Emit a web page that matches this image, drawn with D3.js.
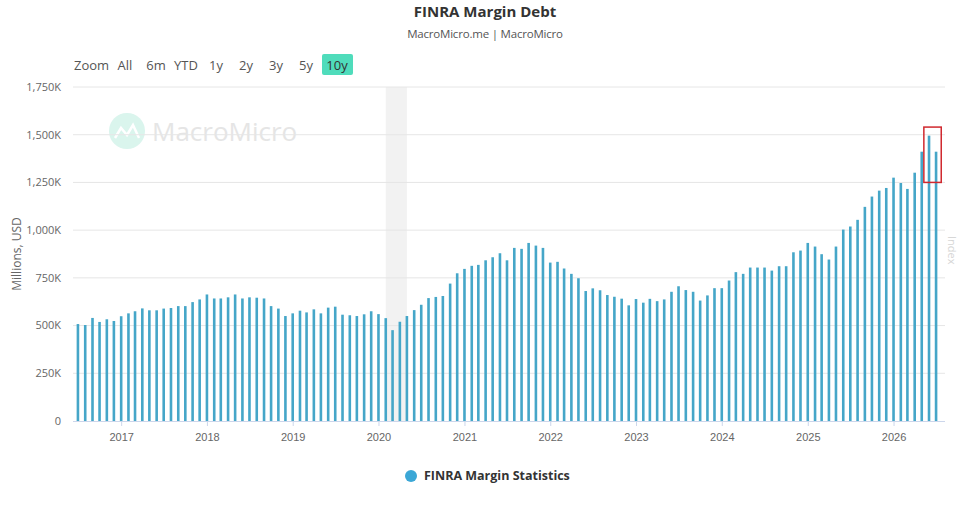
<!DOCTYPE html>
<html lang="en">
<head>
    <meta charset="UTF-8">
    <title>FINRA Margin Debt</title>
    <script src="https://d3js.org/d3.v7.min.js"></script>
    <style>
        body {
            margin: 0;
            font-family: "Open Sans", "Noto Sans", Arial, sans-serif;
            background: #fff;
        }

        .tick-label {
            font-size: 11px;
            fill: #666;
        }

        .range-btn {
            font-size: 13px;
            fill: #555;
        }
    </style>
</head>
<body>
    <div id="chart"></div>
    <script>
        // monthly margin debt, millions USD (in K), Jul 2016 .. Jul 2026
        const startYear = 2016, startMonth = 6;
        const marginDebt = [
            508, 503, 540, 519, 533, 524,
            549, 564, 575, 590, 580, 580, 589, 592, 602, 602, 623, 637,
            663, 642, 642, 648, 663, 642, 648, 646, 642, 602, 589, 550,
            564, 578, 569, 585, 564, 594, 599, 557, 554, 550, 559, 575,
            560, 539, 476, 520, 550, 581, 609, 644, 650, 655, 720, 774,
            797, 813, 818, 842, 858, 879, 842, 907, 902, 933, 919, 907,
            830, 834, 799, 771, 748, 681, 695, 685, 660, 651, 641, 606,
            639, 620, 640, 628, 637, 677, 706, 686, 677, 631, 658, 696,
            696, 736, 780, 771, 804, 804, 804, 788, 811, 811, 884, 893,
            933, 914, 874, 846, 914, 1003, 1019, 1054, 1122, 1176, 1207, 1221,
            1275, 1247, 1216, 1301, 1411, 1495, 1411
        ];
        const yTicks = [0, 250, 500, 750, 1000, 1250, 1500, 1750];
        const xTickYears = [2017, 2018, 2019, 2020, 2021, 2022, 2023, 2024, 2025, 2026];
        const rangeButtons = ["All", "6m", "YTD", "1y", "2y", "3y", "5y", "10y"];
        const recession = [new Date(2020, 1, 1), new Date(2020, 4, 1)];

        const data = marginDebt.map((v, i) => ({
            date: new Date(startYear, startMonth + i, 1),
            value: v
        }));

        const W = 974, H = 508;
        const svg = d3.select("#chart")
                      .append("svg")
                      .attr("width", W)
                      .attr("height", H);

        const x = d3.scaleTime()
                    .domain([new Date(2016, 5, 10), new Date(2026, 7, 8)])
                    .range([73, 945]);

        const y = d3.scaleLinear()
                    .domain([0, 1750])
                    .range([421, 87]);

        // title
        svg.append("text")
            .attr("x", 485).attr("y", 17)
            .attr("text-anchor", "middle")
            .style("font-size", "15px")
            .style("font-weight", "bold")
            .style("fill", "#333")
            .text("FINRA Margin Debt");

        svg.append("text")
            .attr("x", 485).attr("y", 38)
            .attr("text-anchor", "middle")
            .style("font-size", "11.5px")
            .style("letter-spacing", "-0.2px")
            .style("fill", "#555")
            .text("MacroMicro.me | MacroMicro");

        // range selector
        const btn = svg.append("g").attr("transform", "translate(0,65)");
        btn.append("text")
            .attr("class", "range-btn")
            .attr("x", 74).attr("dy", "0.35em")
            .text("Zoom");
        const btnX = [125, 156, 186, 216, 246, 276, 306, 337];
        rangeButtons.forEach((b, i) => {
            const g = btn.append("g").attr("transform", `translate(${btnX[i]},0)`);
            if (b === "10y") {
                g.append("rect")
                    .attr("x", -15).attr("y", -11)
                    .attr("width", 31).attr("height", 21)
                    .attr("rx", 2)
                    .attr("fill", "#4fdcbb");
            }
            g.append("text")
                .attr("class", "range-btn")
                .attr("text-anchor", "middle")
                .attr("dy", "0.35em")
                .style("fill", b === "10y" ? "#333" : "#555")
                .text(b);
        });

        // watermark
        const wm = svg.append("g").attr("opacity", 0.9);
        wm.append("circle")
            .attr("cx", 127).attr("cy", 131).attr("r", 18)
            .attr("fill", "#d6f4ec");
        wm.append("path")
            .attr("d", "M115,138 L121,128 L127,135 L133,125 L139,138")
            .attr("fill", "none")
            .attr("stroke", "#fff")
            .attr("stroke-width", 2.5);
        wm.append("text")
            .attr("x", 152).attr("y", 141)
            .style("font-size", "26px")
            .style("fill", "#e3e3e3")
            .text("MacroMicro");

        // recession band
        svg.append("rect")
            .attr("x", x(recession[0]))
            .attr("y", y(1750))
            .attr("width", x(recession[1]) - x(recession[0]))
            .attr("height", y(0) - y(1750))
            .attr("fill", "#f2f2f2");

        // grid + y labels
        const yAxis = svg.append("g");
        yAxis.selectAll("line")
            .data(yTicks.filter(d => d > 0))
            .enter().append("line")
            .attr("x1", 73).attr("x2", 945)
            .attr("y1", d => y(d)).attr("y2", d => y(d))
            .attr("stroke", "#e6e6e6");
        yAxis.selectAll("text")
            .data(yTicks)
            .enter().append("text")
            .attr("class", "tick-label")
            .attr("x", 61)
            .attr("y", d => y(d))
            .attr("dy", "0.35em")
            .attr("text-anchor", "end")
            .text(d => d === 0 ? "0" : d3.format(",")(d) + "K");

        svg.append("text")
            .attr("transform", `translate(21,${y(875)}) rotate(-90)`)
            .attr("text-anchor", "middle")
            .style("font-size", "12px")
            .style("fill", "#666")
            .text("Millions, USD");

        svg.append("text")
            .attr("transform", `translate(948,${y(1000) + 20}) rotate(90)`)
            .attr("text-anchor", "middle")
            .style("font-size", "11px")
            .style("fill", "#d6d6d6")
            .text("Index");

        // bars
        svg.append("g")
            .selectAll(".bar")
            .data(data)
            .enter().append("rect")
            .attr("class", "bar")
            .attr("x", d => x(d.date) - 1.3)
            .attr("y", d => y(d.value))
            .attr("width", 2.6)
            .attr("height", d => y(0) - y(d.value))
            .attr("fill", "#45a6c8");

        // x axis
        const xAxis = svg.append("g")
            .attr("transform", `translate(0,${y(0)})`)
            .call(d3.axisBottom(x)
                .tickValues(xTickYears.map(yr => new Date(yr, 0, 1)))
                .tickFormat(d3.timeFormat("%Y"))
                .tickSize(5)
                .tickPadding(7));
        xAxis.select(".domain").attr("stroke", "#ccd6eb").attr("d", "M73,0.5H945");
        xAxis.selectAll(".tick line").attr("stroke", "#ccd6eb");
        xAxis.selectAll(".tick text")
            .attr("class", "tick-label")
            .style("font-family", "inherit");

        // highlight box on the latest readings
        svg.append("rect")
            .attr("x", x(new Date(2026, 4, 10)))
            .attr("y", y(1540))
            .attr("width", x(new Date(2026, 6, 23)) - x(new Date(2026, 4, 10)))
            .attr("height", y(1250) - y(1540))
            .attr("fill", "none")
            .attr("stroke", "#d0282e")
            .attr("stroke-width", 1.5);

        // legend
        const legend = svg.append("g").attr("transform", "translate(411,476)");
        legend.append("circle")
            .attr("r", 6)
            .attr("fill", "#3ba7d6");
        legend.append("text")
            .attr("x", 13).attr("dy", "0.35em")
            .style("font-size", "12.5px")
            .style("font-weight", "bold")
            .style("fill", "#333")
            .text("FINRA Margin Statistics");
    </script>
</body>
</html>
